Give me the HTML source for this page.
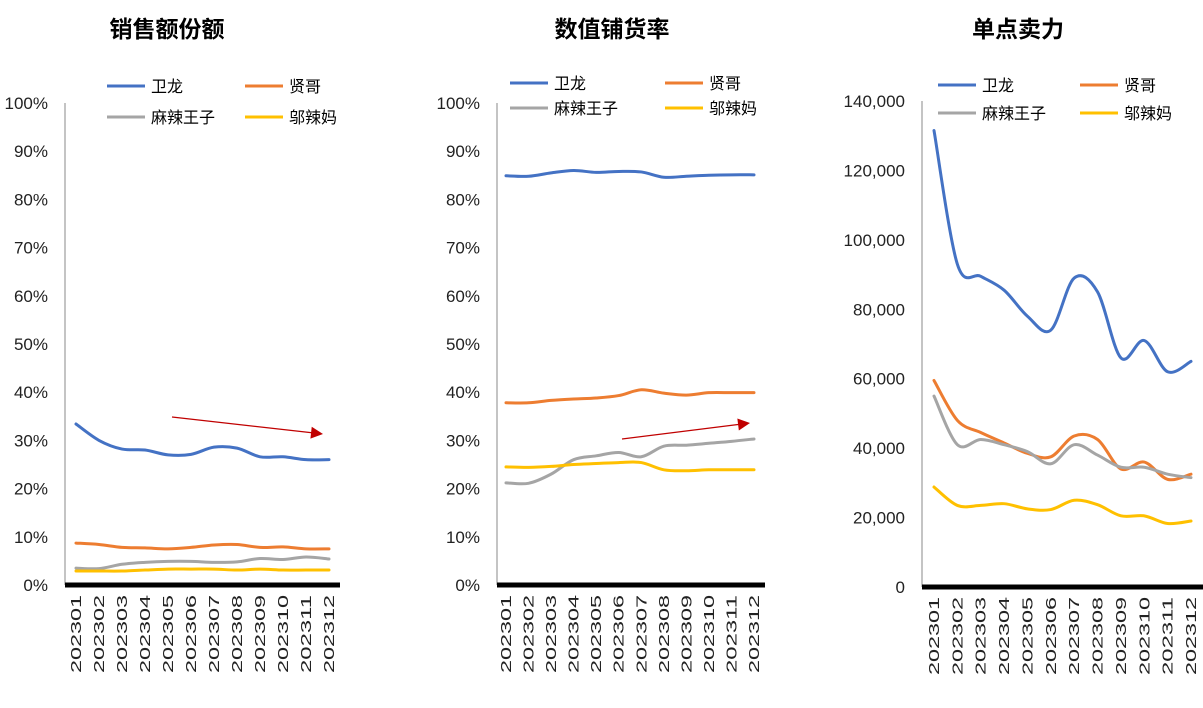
<!DOCTYPE html>
<html><head><meta charset="utf-8"><style>
body{margin:0;background:#fff;}
svg{font-family:"Liberation Sans","Noto Sans CJK SC",sans-serif;}
</style></head><body>
<svg id="s" width="1203" height="703"></svg>
<script>
const months=["202301","202302","202303","202304","202305","202306","202307","202308","202309","202310","202311","202312"];
const seriesNames=["卫龙","贤哥","麻辣王子","邬辣妈"];
const colors=["#4472C4","#ED7D31","#A5A5A5","#FFC000"];
const pctTicks=[0,10,20,30,40,50,60,70,80,90,100];
const numTicks=[0,20000,40000,60000,80000,100000,120000,140000];
const shareWeilong=[33.4,30,28.2,28,27,27.1,28.6,28.4,26.6,26.6,26,26];
const shareXiange=[8.7,8.4,7.8,7.7,7.5,7.8,8.3,8.4,7.8,7.9,7.5,7.5];
const shareWangzi=[3.5,3.4,4.3,4.7,4.9,4.9,4.7,4.8,5.5,5.3,5.8,5.4];
const shareWulama=[2.9,2.9,2.9,3.1,3.3,3.3,3.3,3.1,3.3,3.1,3.1,3.1];
const distWeilong=[84.9,84.8,85.5,86,85.6,85.8,85.7,84.6,84.8,85,85.1,85.1];
const distXiange=[37.8,37.8,38.3,38.6,38.8,39.3,40.5,39.8,39.4,39.9,39.9,39.9];
const distWangzi=[21.2,21.1,23,26,26.8,27.5,26.6,28.8,29,29.4,29.8,30.3];
const distWulama=[24.5,24.4,24.6,25,25.2,25.4,25.4,23.9,23.7,23.9,23.9,23.9];
const salesWeilong=[131500,93000,89500,85500,78000,74000,89000,85000,66000,71000,62000,65000];
const salesXiange=[59500,48000,44500,41500,38500,37500,43500,42500,34000,36000,31000,32500];
const salesWangzi=[55000,41000,42500,41000,39000,35500,41000,38000,34500,34500,32500,31500];
const salesWulama=[28800,23500,23500,24000,22500,22300,25000,23700,20500,20500,18300,19000];

const NS="http://www.w3.org/2000/svg";
const svg=document.getElementById('s');
function mk(tag,attrs,parent){const e=document.createElementNS(NS,tag);for(const k in attrs)e.setAttribute(k,attrs[k]);(parent||svg).appendChild(e);return e;}
function smooth(p){let d="M"+p[0][0]+","+p[0][1];for(let i=0;i<p.length-1;i++){const p0=p[i-1]||p[i],p1=p[i],p2=p[i+1],p3=p[i+2]||p2;const c1=[p1[0]+(p2[0]-p0[0])/6,p1[1]+(p2[1]-p0[1])/6],c2=[p2[0]-(p3[0]-p1[0])/6,p2[1]-(p3[1]-p1[1])/6];d+=" C"+c1+" "+c2+" "+p2;}return d;}

function chart(cfg){
  const g=mk('g',{});
  
  
  const y=v=>cfg.y0-(v-cfg.vmin)/(cfg.vmax-cfg.vmin)*(cfg.y0-cfg.y1);
  const x=i=>cfg.x0+i*(cfg.x1-cfg.x0)/(months.length-1);
  const t=mk('text',{x:cfg.tx,y:37,'text-anchor':'middle','font-size':23,'font-weight':'bold',fill:'#000'},g);t.textContent=cfg.title;
  
  cfg.ticks.forEach(v=>{const e=mk('text',{x:cfg.ax-17,y:y(v)+6,'text-anchor':'end','font-size':17,fill:'#222'},g);e.textContent=cfg.fmt(v);
    });
  const ya=mk('line',{x1:cfg.ax,x2:cfg.ax,y1:cfg.y1,y2:cfg.y0,stroke:'#888','stroke-width':1},g);
  
  const xa=mk('line',{x1:cfg.ax,x2:cfg.axEnd,y1:cfg.y0,y2:cfg.y0,stroke:'#000','stroke-width':5},g);
  
  months.forEach((m,i)=>{const e=mk('text',{transform:`translate(${x(i)+5},${cfg.y0+10}) rotate(-90)`,'text-anchor':'end','font-size':15,fill:'#222',textLength:78,lengthAdjust:'spacingAndGlyphs'},g);e.textContent=m;
    });
  cfg.data.forEach((arr,s)=>{const p=mk('path',{d:smooth(arr.map((v,i)=>[x(i),y(v)])),fill:'none',stroke:colors[s],'stroke-width':3,'stroke-linecap':'round'},g);
    });
  seriesNames.forEach((n,s)=>{const lx=s%2?cfg.lx2:cfg.lx1,ly=s<2?cfg.ly1:cfg.ly2;
    const l=mk('line',{x1:lx,x2:lx+38,y1:ly,y2:ly,stroke:colors[s],'stroke-width':3},g);
    
    const e=mk('text',{x:lx+44,y:ly+6,'font-size':16,fill:'#000'},g);e.textContent=n;
    });
  if(cfg.arrow){const a=cfg.arrow;const ang=Math.atan2(a[3]-a[1],a[2]-a[0]);
    const L=mk('line',{x1:a[0],y1:a[1],x2:a[2]-10*Math.cos(ang),y2:a[3]-10*Math.sin(ang),stroke:'#C00000','stroke-width':1.2},g);
    
    const c=Math.cos(ang),sn=Math.sin(ang);
    const pts=[[a[2],a[3]],[a[2]-12*c+6*sn,a[3]-12*sn-6*c],[a[2]-12*c-6*sn,a[3]-12*sn+6*c]];
    const h=mk('polygon',{points:pts.map(q=>q.join(',')).join(' '),fill:'#C00000'},g);
    }
}
chart({name:'sales-share-chart',title:'销售额份额',tx:167,ax:65,axEnd:340,x0:76,x1:329,y0:585,y1:103,vmin:0,vmax:100,ticks:pctTicks,fmt:v=>v+'%',
  data:[shareWeilong,shareXiange,shareWangzi,shareWulama],lx1:107,lx2:245,ly1:86,ly2:117,arrow:[172,417,323,434]});
chart({name:'distribution-chart',title:'数值铺货率',tx:612,ax:497,axEnd:765,x0:506,x1:754,y0:585,y1:103,vmin:0,vmax:100,ticks:pctTicks,fmt:v=>v+'%',
  data:[distWeilong,distXiange,distWangzi,distWulama],lx1:510,lx2:665,ly1:83,ly2:108,arrow:[622,439,750,423]});
chart({name:'per-store-sales-chart',title:'单点卖力',tx:1018,ax:922,axEnd:1203,x0:934,x1:1191,y0:587,y1:101,vmin:0,vmax:140000,ticks:numTicks,fmt:v=>v.toLocaleString('en-US'),
  data:[salesWeilong,salesXiange,salesWangzi,salesWulama],lx1:938,lx2:1080,ly1:85,ly2:113});
</script>
</body></html>
